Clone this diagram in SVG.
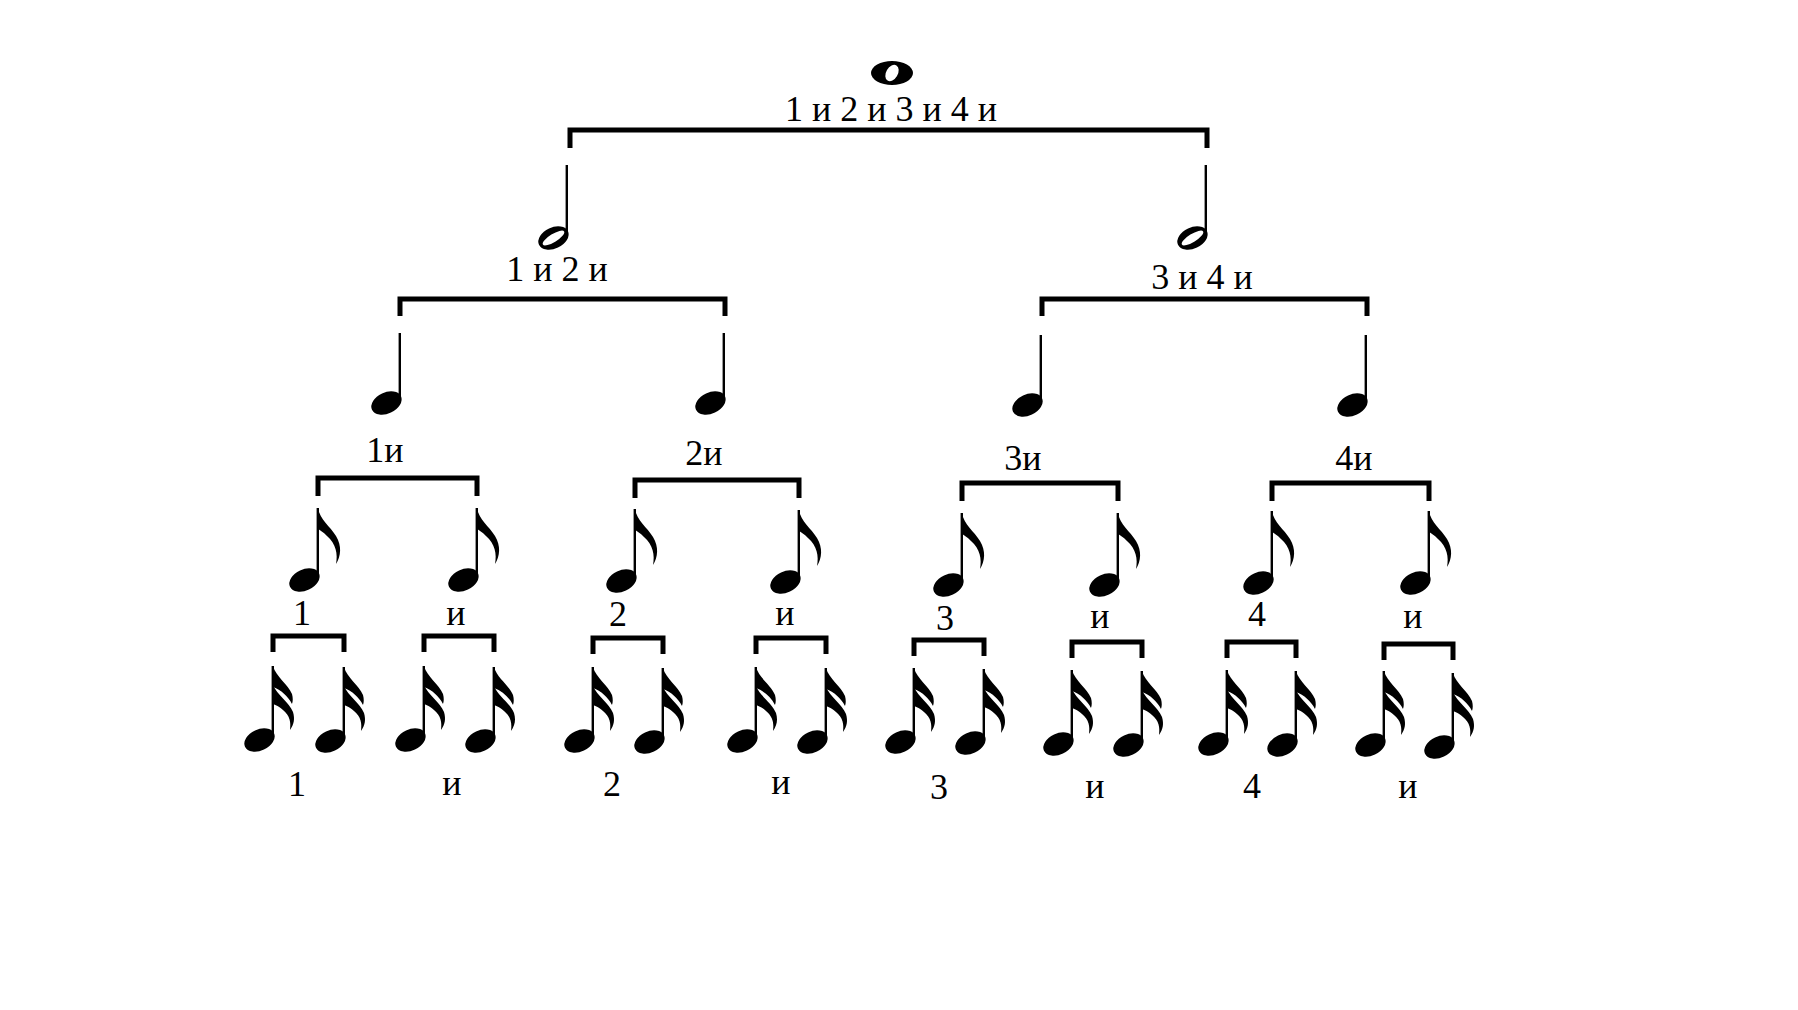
<svg xmlns="http://www.w3.org/2000/svg" xmlns:xlink="http://www.w3.org/1999/xlink" width="1798" height="1010" viewBox="0 0 1798 1010">
<style>
  .lbl { font-family: "Liberation Serif", "Times New Roman", serif; font-size: 36px; fill: #000; text-anchor: middle; }
  .br { fill: none; stroke: #000; stroke-width: 5; stroke-linejoin: miter; stroke-linecap: butt; }
</style>
<defs>
  <ellipse id="head" cx="-14.5" cy="0" rx="16" ry="10.5" transform="rotate(-25 -14.5 0)" fill="#000"/>
  <g id="half">
    <ellipse cx="-14.5" cy="0" rx="16" ry="10.5" transform="rotate(-25 -14.5 0)" fill="#000"/>
    <ellipse cx="-14.5" cy="0" rx="12.5" ry="4" transform="rotate(-32 -14.5 0)" fill="#fff"/>
    <rect x="-2.4" y="-73" width="2.4" height="70" fill="#000"/>
  </g>
  <g id="quarter">
    <use xlink:href="#head" href="#head"/>
    <rect x="-2.4" y="-70" width="2.4" height="68" fill="#000"/>
  </g>
  <g id="eighth">
    <use xlink:href="#head" href="#head"/>
    <rect x="-2.4" y="-72" width="2.4" height="70" fill="#000"/>
    <path d="M -1,-72 C 1,-60 11,-54 17,-44 C 23,-34 22,-24 17,-16 C 19,-26 17,-36 8,-44 C 4,-48 1,-50 -1,-51 Z" fill="#000"/>
  </g>
  <g id="sixteenth">
    <use xlink:href="#head" href="#head"/>
    <rect x="-2.4" y="-74" width="2.4" height="72" fill="#000"/>
    <path d="M -1,-74 C 2,-63 14,-56 18,-46 C 19,-42 19,-39 18,-36 C 14,-44 7,-50 -1,-53 Z" fill="#000"/>
    <path d="M -1,-55 C 3,-45 15,-38 19,-28 C 21,-21 20,-16 16,-10 C 17,-18 16,-24 9,-30 C 6,-33 2,-35 -1,-36 Z" fill="#000"/>
  </g>
</defs>
<rect width="1798" height="1010" fill="#fff"/>

<g id="connectors">
  <path class="br" d="M 570 148 V 130 H 1207 V 148"/>
  <path class="br" d="M 400 316 V 299 H 725 V 316"/>
  <path class="br" d="M 1042 316 V 299 H 1367 V 316"/>
  <path class="br" d="M 318 496 V 478 H 477 V 496"/>
  <path class="br" d="M 635 498 V 480 H 799 V 498"/>
  <path class="br" d="M 962 501 V 483 H 1118 V 501"/>
  <path class="br" d="M 1272 501 V 483 H 1429 V 501"/>
  <path class="br" d="M 273 652 V 636 H 344 V 652"/>
  <path class="br" d="M 424 652 V 636 H 494 V 652"/>
  <path class="br" d="M 593 654 V 638 H 663 V 654"/>
  <path class="br" d="M 756 654 V 638 H 826 V 654"/>
  <path class="br" d="M 914 656 V 640 H 984 V 656"/>
  <path class="br" d="M 1072 658 V 642 H 1142 V 658"/>
  <path class="br" d="M 1227 658 V 642 H 1296 V 658"/>
  <path class="br" d="M 1384 660 V 644 H 1453 V 660"/>
</g>

<g id="n-whole">
  <path d="M 871 73 a 21 12 0 1 0 42 0 a 21 12 0 1 0 -42 0 Z M 887 70 a 5 7.5 30 1 0 10 6 a 5 7.5 30 1 0 -10 -6 Z" fill="#000" fill-rule="evenodd"/>
  <text class="lbl" x="891" y="121">1 и 2 и 3 и 4 и</text>
</g>

<g id="n-half-1"><use href="#half" xlink:href="#half" transform="translate(568 238)"/><text class="lbl" x="557" y="281">1 и 2 и</text></g>
<g id="n-half-2"><use href="#half" xlink:href="#half" transform="translate(1207 238)"/><text class="lbl" x="1202" y="289">3 и 4 и</text></g>

<g id="n-q1"><use href="#quarter" xlink:href="#quarter" transform="translate(401 403)"/><text class="lbl" x="385" y="462">1и</text></g>
<g id="n-q2"><use href="#quarter" xlink:href="#quarter" transform="translate(725 403)"/><text class="lbl" x="704" y="465">2и</text></g>
<g id="n-q3"><use href="#quarter" xlink:href="#quarter" transform="translate(1042 405)"/><text class="lbl" x="1023" y="470">3и</text></g>
<g id="n-q4"><use href="#quarter" xlink:href="#quarter" transform="translate(1367 405)"/><text class="lbl" x="1354" y="470">4и</text></g>

<g id="n-e1"><use href="#eighth" xlink:href="#eighth" transform="translate(319 580)"/><text class="lbl" x="302" y="625">1</text></g>
<g id="n-e2"><use href="#eighth" xlink:href="#eighth" transform="translate(478 580)"/><text class="lbl" x="456" y="625">и</text></g>
<g id="n-e3"><use href="#eighth" xlink:href="#eighth" transform="translate(636 581)"/><text class="lbl" x="618" y="626">2</text></g>
<g id="n-e4"><use href="#eighth" xlink:href="#eighth" transform="translate(800 582)"/><text class="lbl" x="785" y="625">и</text></g>
<g id="n-e5"><use href="#eighth" xlink:href="#eighth" transform="translate(963 585)"/><text class="lbl" x="945" y="630">3</text></g>
<g id="n-e6"><use href="#eighth" xlink:href="#eighth" transform="translate(1119 585)"/><text class="lbl" x="1100" y="628">и</text></g>
<g id="n-e7"><use href="#eighth" xlink:href="#eighth" transform="translate(1273 583)"/><text class="lbl" x="1257" y="626">4</text></g>
<g id="n-e8"><use href="#eighth" xlink:href="#eighth" transform="translate(1430 583)"/><text class="lbl" x="1413" y="628">и</text></g>

<g id="n-s1"><use href="#sixteenth" xlink:href="#sixteenth" transform="translate(274 740)"/><use href="#sixteenth" xlink:href="#sixteenth" transform="translate(345 741)"/><text class="lbl" x="297" y="796">1</text></g>
<g id="n-s2"><use href="#sixteenth" xlink:href="#sixteenth" transform="translate(425 740)"/><use href="#sixteenth" xlink:href="#sixteenth" transform="translate(495 741)"/><text class="lbl" x="452" y="795">и</text></g>
<g id="n-s3"><use href="#sixteenth" xlink:href="#sixteenth" transform="translate(594 741)"/><use href="#sixteenth" xlink:href="#sixteenth" transform="translate(664 742)"/><text class="lbl" x="612" y="796">2</text></g>
<g id="n-s4"><use href="#sixteenth" xlink:href="#sixteenth" transform="translate(757 741)"/><use href="#sixteenth" xlink:href="#sixteenth" transform="translate(827 742)"/><text class="lbl" x="781" y="794">и</text></g>
<g id="n-s5"><use href="#sixteenth" xlink:href="#sixteenth" transform="translate(915 742)"/><use href="#sixteenth" xlink:href="#sixteenth" transform="translate(985 743)"/><text class="lbl" x="939" y="799">3</text></g>
<g id="n-s6"><use href="#sixteenth" xlink:href="#sixteenth" transform="translate(1073 744)"/><use href="#sixteenth" xlink:href="#sixteenth" transform="translate(1143 745)"/><text class="lbl" x="1095" y="798">и</text></g>
<g id="n-s7"><use href="#sixteenth" xlink:href="#sixteenth" transform="translate(1228 744)"/><use href="#sixteenth" xlink:href="#sixteenth" transform="translate(1297 745)"/><text class="lbl" x="1252" y="798">4</text></g>
<g id="n-s8"><use href="#sixteenth" xlink:href="#sixteenth" transform="translate(1385 745)"/><use href="#sixteenth" xlink:href="#sixteenth" transform="translate(1454 747)"/><text class="lbl" x="1408" y="798">и</text></g>
</svg>
